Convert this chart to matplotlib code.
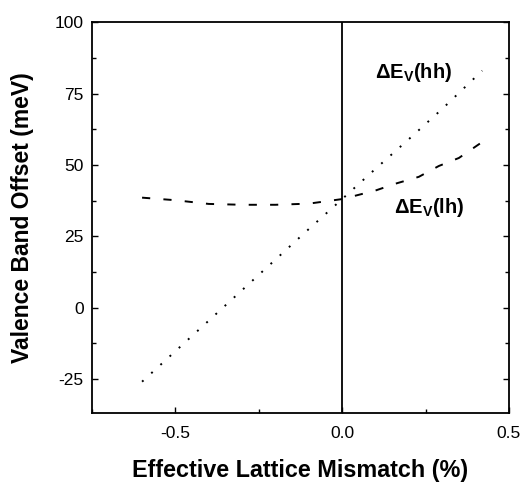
import matplotlib
matplotlib.use("Agg")
import matplotlib.pyplot as plt
from matplotlib.ticker import MultipleLocator

plt.rcParams['font.family'] = ['Liberation Sans', 'DejaVu Sans']

# data
hh_x = [-0.60, -0.50, -0.40, -0.30, -0.20, -0.10, 0.00, 0.10, 0.20, 0.30, 0.42]
hh_y = [-26.0, -15.3, -4.6, 6.1, 16.8, 27.5, 38.0, 48.6, 59.0, 69.6, 83.0]

lh_x = [-0.60, -0.50, -0.40, -0.30, -0.20, -0.10, 0.00, 0.10, 0.16, 0.23, 0.29, 0.35, 0.42]
lh_y = [38.5, 37.6, 36.3, 36.0, 36.0, 36.4, 38.0, 41.0, 43.4, 45.8, 49.6, 52.4, 58.0]

xticks = [-0.5, 0.0, 0.5]
xticklabels = ['-0.5', '0.0', '0.5']
yticks = [-25, 0, 25, 50, 75, 100]
yticklabels = ['-25', '0', '25', '50', '75', '100']

fig = plt.figure(figsize=(5.23, 4.82), dpi=100)
ax = fig.add_axes([0.176, 0.143, 0.797, 0.811])

ax.plot(hh_x, hh_y, color='black', lw=1.4, linestyle=(0, (1, 5.4)))
ax.plot(lh_x, lh_y, color='black', lw=1.4, linestyle=(0, (4.2, 6.8)))
ax.axvline(0.0, color='black', lw=1.3)

ax.set_xlim(-0.75, 0.5)
ax.set_ylim(-37, 100)
ax.set_xticks(xticks)
ax.set_xticklabels(xticklabels)
ax.set_yticks(yticks)
ax.set_yticklabels(yticklabels)
ax.xaxis.set_minor_locator(MultipleLocator(0.25))
ax.yaxis.set_minor_locator(MultipleLocator(12.5))
ax.tick_params(which='both', direction='in', top=False, right=True,
               labelsize=12.5, width=1.0)
ax.tick_params(which='major', length=4)
ax.tick_params(which='minor', length=3)
ax.tick_params(axis='x', pad=9)
ax.tick_params(axis='y', pad=6)
for s in ax.spines.values():
    s.set_linewidth(1.3)

ax.set_xlabel('Effective Lattice Mismatch (%)', fontsize=16.8, fontweight='bold', labelpad=13)
ax.set_ylabel('Valence Band Offset (meV)', fontsize=16.5, fontweight='bold', labelpad=15)

ax.text(0.10, 82.5, r'ΔE$_{\mathregular{V}}$(hh)', fontsize=14.5, fontweight='bold', va='center', ha='left')
ax.text(0.155, 35, r'ΔE$_{\mathregular{V}}$(lh)', fontsize=14.5, fontweight='bold', va='center', ha='left')

fig.savefig('out.png', dpi=100)
